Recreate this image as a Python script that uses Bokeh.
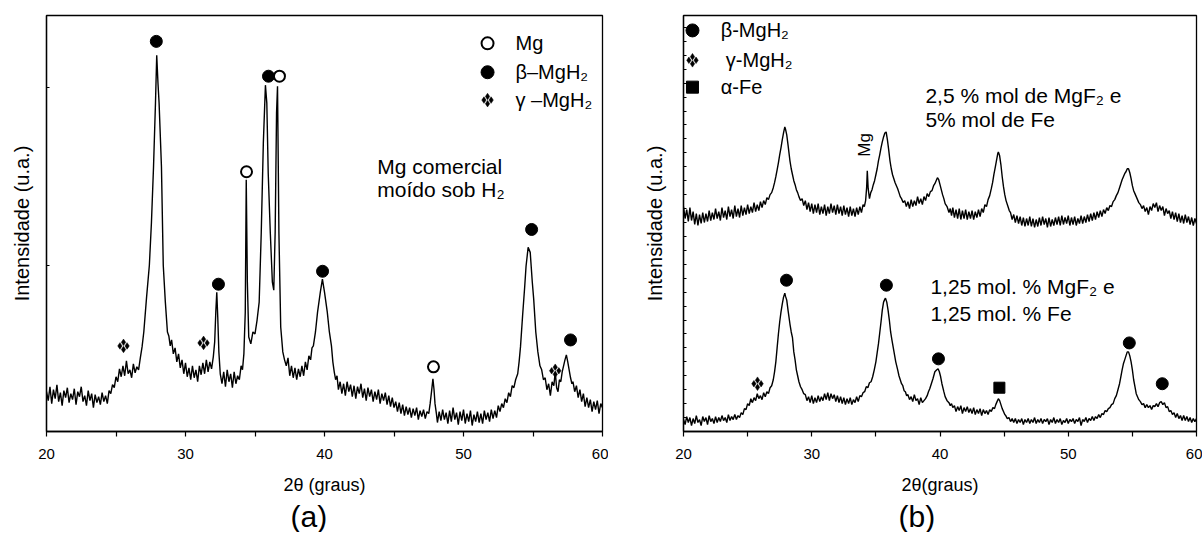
from math import pi
from bokeh.plotting import figure
from bokeh.layouts import row
from bokeh.models import FixedTicker, Title, Range1d
from bokeh.core.properties import value
from bokeh.embed import file_html
from bokeh.resources import INLINE

FONT = "Liberation Sans"

# ---------------- Panel (a): Mg comercial moído sob H2 (2θ, intensity a.u.) ----------------
scan_a = [
    (20.0, 40), (20.125, 31), (20.25, 45), (20.375, 28), (20.5, 42), (20.625, 33), (20.75, 47), (20.875, 30),
    (21.0, 39), (21.125, 26), (21.25, 41), (21.375, 34), (21.5, 44), (21.625, 29), (21.75, 38), (21.875, 32),
    (22.0, 43), (22.125, 27), (22.25, 40), (22.375, 35), (22.5, 45), (22.625, 30), (22.75, 36), (22.875, 26),
    (23.0, 41), (23.125, 31), (23.25, 38), (23.375, 24), (23.5, 37), (23.625, 29), (23.75, 35), (23.875, 27),
    (24.0, 39), (24.125, 30), (24.25, 36), (24.375, 28), (24.5, 41), (24.625, 38), (24.75, 47), (24.875, 44),
    (25.0, 55), (25.125, 50), (25.25, 63), (25.375, 55), (25.5, 66), (25.625, 56), (25.75, 71), (25.875, 58),
    (26.0, 62), (26.125, 54), (26.25, 68), (26.375, 59), (26.5, 65), (26.625, 62), (26.75, 74), (26.875, 85),
    (27.0, 100), (27.2, 135), (27.4, 167), (27.55, 210), (27.7, 266), (27.84, 330), (27.93, 378), (28.02, 350),
    (28.1, 330), (28.27, 266), (28.4, 167), (28.55, 130), (28.7, 100), (28.8, 96), (28.9, 86), (29.0, 92),
    (29.125, 78), (29.25, 84), (29.375, 70), (29.5, 78), (29.625, 64), (29.75, 72), (29.875, 58), (30.0, 69),
    (30.125, 55), (30.25, 64), (30.375, 52), (30.5, 66), (30.625, 54), (30.75, 62), (30.875, 50), (31.0, 66),
    (31.125, 57), (31.25, 69), (31.375, 58), (31.5, 72), (31.625, 60), (31.75, 70), (31.875, 63), (32.0, 75),
    (32.1, 90), (32.18, 120), (32.25, 140), (32.32, 115), (32.4, 80), (32.5, 58), (32.625, 48), (32.75, 60),
    (32.875, 45), (33.0, 62), (33.125, 50), (33.25, 58), (33.375, 44), (33.5, 60), (33.625, 48), (33.75, 56),
    (33.875, 52), (34.0, 66), (34.1, 62), (34.2, 78), (34.3, 120), (34.37, 253), (34.45, 150), (34.55, 95),
    (34.7, 88), (34.85, 100), (35.0, 98), (35.15, 112), (35.3, 130), (35.45, 200), (35.6, 290), (35.75, 348),
    (35.85, 330), (35.95, 260), (36.1, 200), (36.25, 150), (36.35, 142), (36.45, 200), (36.55, 320), (36.62, 347),
    (36.72, 200), (36.85, 105), (37.0, 80), (37.125, 72), (37.25, 66), (37.375, 74), (37.5, 56), (37.625, 66),
    (37.75, 54), (37.875, 64), (38.0, 52), (38.125, 63), (38.25, 55), (38.375, 66), (38.5, 56), (38.625, 70),
    (38.75, 62), (38.875, 76), (39.0, 72), (39.1, 84), (39.2, 86), (39.35, 100), (39.5, 120), (39.7, 140),
    (39.85, 153), (40.0, 140), (40.2, 120), (40.35, 100), (40.5, 86), (40.6, 70), (40.7, 60), (40.8, 52),
    (40.9, 56), (41.0, 42), (41.125, 50), (41.25, 38), (41.375, 48), (41.5, 36), (41.625, 50), (41.75, 40),
    (41.875, 47), (42.0, 35), (42.125, 46), (42.25, 33), (42.375, 45), (42.5, 38), (42.625, 48), (42.75, 34),
    (42.875, 43), (43.0, 31), (43.125, 44), (43.25, 35), (43.375, 42), (43.5, 30), (43.625, 40), (43.75, 32),
    (43.875, 42), (44.0, 28), (44.125, 38), (44.25, 31), (44.375, 39), (44.5, 27), (44.625, 36), (44.75, 25),
    (44.875, 34), (45.0, 24), (45.125, 30), (45.25, 20), (45.375, 29), (45.5, 18), (45.625, 27), (45.75, 16),
    (45.875, 25), (46.0, 17), (46.125, 24), (46.25, 14), (46.375, 23), (46.5, 16), (46.625, 24), (46.75, 12),
    (46.875, 21), (47.0, 15), (47.125, 22), (47.25, 13), (47.375, 20), (47.5, 18), (47.6, 28), (47.7, 40),
    (47.8, 53), (47.88, 42), (47.95, 28), (48.05, 18), (48.125, 9), (48.25, 20), (48.375, 11), (48.5, 22),
    (48.625, 12), (48.75, 19), (48.875, 8), (49.0, 21), (49.125, 10), (49.25, 24), (49.375, 12), (49.5, 19),
    (49.625, 7), (49.75, 20), (49.875, 11), (50.0, 22), (50.125, 8), (50.25, 18), (50.375, 10), (50.5, 21),
    (50.625, 6), (50.75, 17), (50.875, 10), (51.0, 20), (51.125, 9), (51.25, 18), (51.375, 8), (51.5, 21),
    (51.625, 12), (51.75, 19), (51.875, 10), (52.0, 22), (52.125, 13), (52.25, 21), (52.375, 14), (52.5, 26),
    (52.625, 20), (52.75, 28), (52.875, 24), (53.0, 33), (53.125, 29), (53.25, 39), (53.375, 35), (53.5, 46),
    (53.625, 44), (53.75, 52), (53.9, 58), (54.0, 70), (54.1, 85), (54.25, 116), (54.4, 145), (54.5, 166),
    (54.65, 185), (54.8, 180), (54.95, 150), (55.05, 133), (55.2, 100), (55.35, 80), (55.5, 66), (55.625, 62),
    (55.75, 52), (55.875, 54), (56.0, 42), (56.125, 48), (56.25, 36), (56.375, 50), (56.5, 46), (56.6, 60),
    (56.7, 44), (56.8, 40), (56.9, 52), (57.0, 50), (57.1, 60), (57.2, 66), (57.3, 72), (57.4, 77),
    (57.5, 70), (57.6, 62), (57.7, 54), (57.8, 48), (57.875, 50), (58.0, 40), (58.125, 46), (58.25, 34),
    (58.375, 42), (58.5, 30), (58.625, 38), (58.75, 25), (58.875, 34), (59.0, 24), (59.125, 32), (59.25, 20),
    (59.375, 30), (59.5, 22), (59.625, 31), (59.75, 18), (59.875, 28), (60.0, 24),
]

a_beta_x = [27.9, 32.37, 35.97, 39.86, 54.9, 57.7]
a_beta_y = [392, 148, 357, 161, 203, 92]
a_mg_x = [34.39, 36.76, 47.84]
a_mg_y = [261, 357, 65]
a_gamma_x = [25.54, 31.3, 56.6]
a_gamma_y = [86, 89, 61]

a_legend_labels = ["Mg", "\u03b2\u2013MgH\u2082", "\u03b3 \u2013MgH\u2082"]
a_legend_y = [390, 361, 333]
a_note = ["Mg comercial", "mo\u00eddo sob H\u2082"]
a_note_y = [266, 243]

# ---------------- Panel (b), lower pattern: 1,25 mol.% MgF2 e 1,25 mol.% Fe ----------------
scan_b_low = [
    (20.0, 12), (20.125, 7), (20.25, 15), (20.375, 9), (20.5, 14), (20.625, 6), (20.75, 13), (20.875, 8),
    (21.0, 16), (21.125, 9), (21.25, 12), (21.375, 6), (21.5, 15), (21.625, 10), (21.75, 14), (21.875, 7),
    (22.0, 16), (22.125, 10), (22.25, 13), (22.375, 8), (22.5, 15), (22.625, 9), (22.75, 14), (22.875, 10),
    (23.0, 16), (23.125, 11), (23.25, 14), (23.375, 9), (23.5, 17), (23.625, 11), (23.75, 15), (23.875, 12),
    (24.0, 17), (24.125, 12), (24.25, 16), (24.375, 14), (24.5, 19), (24.625, 17), (24.75, 23), (24.875, 22),
    (25.0, 28), (25.125, 26), (25.25, 33), (25.375, 29), (25.5, 34), (25.625, 31), (25.75, 38), (25.875, 33),
    (26.0, 36), (26.125, 32), (26.25, 39), (26.375, 35), (26.5, 40), (26.625, 38), (26.75, 44), (26.875, 46),
    (27.0, 52), (27.1, 60), (27.2, 70), (27.3, 84), (27.4, 98), (27.5, 110), (27.6, 120), (27.7, 128),
    (27.8, 135), (27.9, 139), (27.95, 136), (28.05, 132), (28.15, 122), (28.3, 108), (28.4, 100), (28.5, 94),
    (28.6, 80), (28.7, 72), (28.8, 62), (28.9, 56), (29.0, 50), (29.125, 45), (29.25, 42), (29.375, 38),
    (29.5, 37), (29.625, 31), (29.75, 35), (29.875, 29), (30.0, 36), (30.125, 28), (30.25, 34), (30.375, 29),
    (30.5, 36), (30.625, 30), (30.75, 35), (30.875, 31), (31.0, 38), (31.125, 32), (31.25, 39), (31.375, 31),
    (31.5, 38), (31.625, 33), (31.75, 37), (31.875, 30), (32.0, 36), (32.125, 29), (32.25, 35), (32.375, 28),
    (32.5, 34), (32.625, 27), (32.75, 33), (32.875, 28), (33.0, 34), (33.125, 27), (33.25, 32), (33.375, 29),
    (33.5, 35), (33.625, 30), (33.75, 36), (33.875, 35), (34.0, 39), (34.125, 40), (34.25, 45), (34.375, 44),
    (34.5, 49), (34.625, 50), (34.75, 55), (34.875, 62), (35.0, 70), (35.1, 79), (35.2, 88), (35.3, 99),
    (35.4, 110), (35.5, 122), (35.6, 130), (35.7, 133), (35.75, 134), (35.85, 130), (35.95, 122), (36.05, 112),
    (36.15, 100), (36.25, 92), (36.4, 81), (36.55, 70), (36.7, 62), (36.8, 56), (36.9, 52), (37.0, 48),
    (37.1, 46), (37.2, 41), (37.3, 40), (37.4, 36), (37.5, 37), (37.625, 32), (37.75, 35), (37.875, 30),
    (38.0, 37), (38.125, 31), (38.25, 33), (38.375, 27), (38.5, 34), (38.625, 29), (38.75, 31), (38.875, 33),
    (39.0, 36), (39.1, 40), (39.2, 43), (39.3, 47), (39.45, 53), (39.6, 60), (39.75, 62), (39.85, 63),
    (39.95, 60), (40.05, 55), (40.15, 48), (40.3, 40), (40.4, 35), (40.55, 31), (40.7, 29), (40.8, 26),
    (40.9, 28), (41.0, 24), (41.125, 26), (41.25, 20), (41.375, 25), (41.5, 21), (41.625, 26), (41.75, 18),
    (41.875, 24), (42.0, 20), (42.125, 25), (42.25, 19), (42.375, 23), (42.5, 18), (42.625, 24), (42.75, 17),
    (42.875, 22), (43.0, 18), (43.125, 23), (43.25, 16), (43.375, 22), (43.5, 18), (43.625, 21), (43.75, 17),
    (43.875, 22), (44.0, 20), (44.125, 24), (44.25, 23), (44.35, 27), (44.45, 30), (44.55, 33), (44.65, 31),
    (44.75, 27), (44.85, 23), (44.95, 20), (45.05, 17), (45.125, 16), (45.25, 13), (45.375, 14), (45.5, 10),
    (45.625, 13), (45.75, 9), (45.875, 13), (46.0, 8), (46.125, 12), (46.25, 9), (46.375, 13), (46.5, 7),
    (46.625, 12), (46.75, 9), (46.875, 13), (47.0, 8), (47.125, 12), (47.25, 9), (47.375, 14), (47.5, 8),
    (47.625, 12), (47.75, 9), (47.875, 13), (48.0, 8), (48.125, 12), (48.25, 10), (48.375, 13), (48.5, 7),
    (48.625, 12), (48.75, 9), (48.875, 14), (49.0, 8), (49.125, 12), (49.25, 9), (49.375, 13), (49.5, 7),
    (49.625, 11), (49.75, 9), (49.875, 13), (50.0, 8), (50.125, 12), (50.25, 10), (50.375, 13), (50.5, 8),
    (50.625, 12), (50.75, 10), (50.875, 14), (51.0, 6), (51.125, 12), (51.25, 10), (51.375, 14), (51.5, 9),
    (51.625, 13), (51.75, 11), (51.875, 15), (52.0, 11), (52.125, 15), (52.25, 13), (52.375, 17), (52.5, 14),
    (52.625, 18), (52.75, 17), (52.875, 21), (53.0, 20), (53.125, 23), (53.25, 24), (53.375, 27), (53.5, 28),
    (53.625, 33), (53.75, 36), (53.875, 42), (54.0, 48), (54.1, 55), (54.2, 62), (54.3, 68), (54.4, 72),
    (54.5, 76), (54.6, 80), (54.7, 80), (54.8, 76), (54.9, 70), (55.0, 62), (55.1, 52), (55.2, 45),
    (55.3, 38), (55.4, 35), (55.5, 32), (55.625, 30), (55.75, 27), (55.875, 28), (56.0, 24), (56.125, 27),
    (56.25, 24), (56.375, 26), (56.5, 22), (56.625, 26), (56.75, 25), (56.875, 28), (57.0, 25), (57.125, 29),
    (57.25, 30), (57.375, 27), (57.5, 29), (57.625, 24), (57.75, 25), (57.875, 20), (58.0, 21), (58.125, 17),
    (58.25, 19), (58.375, 14), (58.5, 18), (58.625, 13), (58.75, 16), (58.875, 11), (59.0, 16), (59.125, 11),
    (59.25, 15), (59.375, 10), (59.5, 14), (59.625, 9), (59.75, 13), (59.875, 10), (60.0, 13),
]

# ---------------- Panel (b), upper pattern: 2,5 % mol de MgF2 e 5% mol de Fe ----------------
scan_b_up = [
    (20.0, 226), (20.125, 214), (20.25, 223), (20.375, 211), (20.5, 225), (20.625, 212), (20.75, 221), (20.875, 208),
    (21.0, 219), (21.125, 207), (21.25, 218), (21.375, 209), (21.5, 220), (21.625, 210), (21.75, 219), (21.875, 211),
    (22.0, 222), (22.125, 212), (22.25, 220), (22.375, 213), (22.5, 224), (22.625, 214), (22.75, 221), (22.875, 212),
    (23.0, 225), (23.125, 215), (23.25, 222), (23.375, 213), (23.5, 226), (23.625, 216), (23.75, 223), (23.875, 214),
    (24.0, 227), (24.125, 216), (24.25, 224), (24.375, 215), (24.5, 227), (24.625, 217), (24.75, 225), (24.875, 218),
    (25.0, 228), (25.125, 219), (25.25, 226), (25.375, 220), (25.5, 230), (25.625, 221), (25.75, 228), (25.875, 222),
    (26.0, 231), (26.125, 225), (26.25, 232), (26.375, 228), (26.5, 235), (26.625, 233), (26.75, 238), (26.875, 240),
    (27.0, 245), (27.1, 250), (27.2, 256), (27.3, 263), (27.4, 270), (27.5, 278), (27.6, 285), (27.7, 293),
    (27.8, 300), (27.9, 306), (27.95, 304), (28.05, 298), (28.15, 288), (28.3, 272), (28.4, 264), (28.5, 258),
    (28.6, 252), (28.7, 248), (28.8, 243), (28.9, 240), (29.0, 236), (29.125, 232), (29.25, 234), (29.375, 227),
    (29.5, 232), (29.625, 223), (29.75, 230), (29.875, 221), (30.0, 229), (30.125, 219), (30.25, 228), (30.375, 220),
    (30.5, 229), (30.625, 218), (30.75, 226), (30.875, 219), (31.0, 228), (31.125, 217), (31.25, 226), (31.375, 219),
    (31.5, 229), (31.625, 220), (31.75, 227), (31.875, 218), (32.0, 228), (32.125, 219), (32.25, 226), (32.375, 217),
    (32.5, 227), (32.625, 218), (32.75, 225), (32.875, 216), (33.0, 226), (33.125, 217), (33.25, 224), (33.375, 216),
    (33.5, 225), (33.625, 218), (33.75, 226), (33.875, 220), (34.0, 228), (34.1, 226), (34.2, 232), (34.28, 245),
    (34.33, 262), (34.4, 244), (34.5, 234), (34.6, 240), (34.7, 243), (34.8, 248), (34.9, 252), (35.0, 258),
    (35.1, 264), (35.2, 272), (35.3, 278), (35.4, 285), (35.5, 291), (35.6, 296), (35.7, 300), (35.8, 301),
    (35.9, 293), (36.0, 283), (36.1, 272), (36.2, 264), (36.3, 258), (36.4, 254), (36.5, 250), (36.6, 247),
    (36.7, 244), (36.8, 240), (36.9, 236), (37.0, 234), (37.125, 230), (37.25, 232), (37.375, 226), (37.5, 231),
    (37.625, 224), (37.75, 233), (37.875, 226), (38.0, 232), (38.125, 227), (38.25, 236), (38.375, 229), (38.5, 234),
    (38.625, 228), (38.75, 236), (38.875, 232), (39.0, 239), (39.125, 236), (39.25, 241), (39.375, 242), (39.5, 247),
    (39.6, 249), (39.7, 252), (39.8, 255), (39.9, 253), (40.0, 248), (40.1, 243), (40.2, 238), (40.3, 234),
    (40.4, 229), (40.55, 226), (40.7, 220), (40.8, 224), (40.9, 217), (41.0, 225), (41.125, 215), (41.25, 223),
    (41.375, 214), (41.5, 224), (41.625, 213), (41.75, 222), (41.875, 214), (42.0, 223), (42.125, 213), (42.25, 221),
    (42.375, 214), (42.5, 222), (42.625, 213), (42.75, 221), (42.875, 215), (43.0, 223), (43.125, 216), (43.25, 224),
    (43.375, 220), (43.5, 228), (43.625, 226), (43.75, 233), (43.875, 237), (44.0, 244), (44.1, 250), (44.2, 258),
    (44.3, 265), (44.4, 272), (44.5, 279), (44.55, 281), (44.65, 277), (44.75, 268), (44.85, 256), (44.95, 246),
    (45.05, 238), (45.15, 232), (45.3, 226), (45.4, 222), (45.5, 220), (45.625, 213), (45.75, 218), (45.875, 210),
    (46.0, 217), (46.125, 209), (46.25, 216), (46.375, 207), (46.5, 215), (46.625, 206), (46.75, 214), (46.875, 207),
    (47.0, 216), (47.125, 206), (47.25, 214), (47.375, 205), (47.5, 213), (47.625, 206), (47.75, 215), (47.875, 207),
    (48.0, 216), (48.125, 208), (48.25, 214), (48.375, 205), (48.5, 215), (48.625, 206), (48.75, 213), (48.875, 207),
    (49.0, 215), (49.125, 208), (49.25, 216), (49.375, 207), (49.5, 217), (49.625, 208), (49.75, 215), (49.875, 209),
    (50.0, 217), (50.125, 207), (50.25, 215), (50.375, 208), (50.5, 216), (50.625, 207), (50.75, 214), (50.875, 209),
    (51.0, 217), (51.125, 209), (51.25, 216), (51.375, 210), (51.5, 218), (51.625, 211), (51.75, 219), (51.875, 212),
    (52.0, 220), (52.125, 213), (52.25, 221), (52.375, 215), (52.5, 222), (52.625, 216), (52.75, 223), (52.875, 219),
    (53.0, 225), (53.125, 222), (53.25, 227), (53.375, 226), (53.5, 231), (53.625, 233), (53.75, 237), (53.875, 240),
    (54.0, 245), (54.1, 249), (54.2, 253), (54.3, 256), (54.4, 259), (54.5, 261), (54.6, 264), (54.7, 264),
    (54.8, 260), (54.9, 254), (55.0, 247), (55.1, 242), (55.2, 239), (55.3, 236), (55.4, 233), (55.5, 230),
    (55.625, 228), (55.75, 224), (55.875, 227), (56.0, 221), (56.125, 225), (56.25, 218), (56.375, 226), (56.5, 222),
    (56.625, 229), (56.75, 225), (56.875, 230), (57.0, 221), (57.125, 227), (57.25, 222), (57.375, 226), (57.5, 217),
    (57.625, 224), (57.75, 219), (57.875, 222), (58.0, 214), (58.125, 221), (58.25, 213), (58.375, 220), (58.5, 211),
    (58.625, 219), (58.75, 210), (58.875, 217), (59.0, 209), (59.125, 218), (59.25, 210), (59.375, 216), (59.5, 208),
    (59.625, 215), (59.75, 207), (59.875, 214), (60.0, 209),
]

b_beta_x = [28.03, 35.82, 39.88, 54.76, 57.33]
b_beta_y = [152, 147, 73, 89, 48]
b_gamma_x = [25.77]
b_gamma_y = [48]
b_fe_x = [44.63]
b_fe_y = [44]

b_legend_labels = ["\u03b2-MgH\u2082", "\u03b3-MgH\u2082", "\u03b1-Fe"]
b_legend_x = [22.9, 23.3, 22.9]
b_legend_y = [403, 373, 346]
b_note_top = ["2,5 % mol de MgF\u2082 e", "5% mol de Fe"]
b_note_top_y = [338, 313]
b_note_bot = ["1,25 mol. % MgF\u2082 e", "1,25 mol. % Fe"]
b_note_bot_y = [146, 119]

x_major = [20, 30, 40, 50, 60]
x_minor = [25, 35, 45, 55]
a_yticks = [167, 346]
b_yticks = [14, 28, 42, 56, 70, 84, 98, 112, 126, 140, 154, 168, 182, 196, 210,
            224, 238, 252, 266, 280, 294, 308, 322, 336, 350, 364, 378, 392, 406]

theta_a = [t for t, _ in scan_a]
int_a = [v for _, v in scan_a]
theta_b1 = [t for t, _ in scan_b_low]
int_b1 = [v for _, v in scan_b_low]
theta_b2 = [t for t, _ in scan_b_up]
int_b2 = [v for _, v in scan_b_up]


def base_fig(width, left, right, top, bottom, xlabel, ylabel, ylabel_standoff, yticks,
             panel_label, panel_offset):
    p = figure(width=width, height=532, x_range=Range1d(20, 60), y_range=Range1d(0, 418),
               output_backend="svg", toolbar_location=None)
    p.min_border_left = left
    p.min_border_right = right
    p.min_border_top = top
    p.min_border_bottom = bottom
    p.grid.visible = False
    p.outline_line_color = "black"
    p.outline_line_width = 1.3
    p.background_fill_color = "white"
    p.border_fill_color = "white"

    xa = p.xaxis[0]
    xa.ticker = FixedTicker(ticks=x_major, minor_ticks=x_minor)
    xa.major_tick_out = 5
    xa.major_tick_in = 0
    xa.minor_tick_out = 5
    xa.minor_tick_in = 0
    xa.axis_line_width = 1.3
    xa.major_tick_line_width = 1.2
    xa.minor_tick_line_width = 1.2
    xa.major_label_text_font = FONT
    xa.major_label_text_font_size = "15px"
    xa.major_label_text_color = "black"
    xa.major_label_standoff = 12
    xa.axis_label = xlabel
    xa.axis_label_text_font = FONT
    xa.axis_label_text_font_size = "18px"
    xa.axis_label_text_font_style = "normal"
    xa.axis_label_text_color = "black"
    xa.axis_label_standoff = 13

    ya = p.yaxis[0]
    ya.ticker = FixedTicker(ticks=[], minor_ticks=yticks)
    ya.major_tick_in = 0
    ya.major_tick_out = 0
    ya.minor_tick_in = 3
    ya.minor_tick_out = 0
    ya.axis_line_width = 1.3
    ya.minor_tick_line_width = 1.2
    ya.axis_label = ylabel
    ya.axis_label_text_font = FONT
    ya.axis_label_text_font_size = "20px"
    ya.axis_label_text_font_style = "normal"
    ya.axis_label_text_color = "black"
    ya.axis_label_standoff = ylabel_standoff

    p.add_layout(Title(text=panel_label, align="left", offset=panel_offset,
                       text_font=FONT, text_font_size="30px", text_font_style="normal",
                       text_color="black", standoff=0), "below")
    return p


def add_text(p, xs, ys, texts, size, align="left", angle=0):
    p.text(x=xs, y=ys, text=texts, text_font=value(FONT), text_font_size=size,
           text_align=align, text_baseline="middle", text_color="black", angle=angle)


def gamma_marker(p, xs, ys, px_per_deg, d=3.6, size=6.5):
    # symbol made of four small diamonds around each anchor point (offset d pixels)
    gx, gy = [], []
    for x, y in zip(xs, ys):
        for dx, dy in [(-d, 0), (d, 0), (0, -d), (0, d)]:
            gx.append(x + dx / px_per_deg)
            gy.append(y + dy)  # y range spans 418 units over 418 px
    p.scatter(gx, gy, marker="diamond", size=size, fill_color="black", line_color="black",
              line_width=0.5)


LW = 1.4

# ---- figure (a)
pa = base_fig(608, 46, 6, 15, 99, "2\u03b8 (graus)", "Intensidade (u.a.)", 14, a_yticks,
              "(a)", 244)
PXA = 556 / 40.0
pa.line(theta_a, int_a, line_color="black", line_width=LW)
pa.scatter(a_beta_x, a_beta_y, marker="circle", size=12, fill_color="black", line_color="black")
pa.scatter(a_mg_x, a_mg_y, marker="circle", size=11, fill_color="white", line_color="black", line_width=2)
gamma_marker(pa, a_gamma_x, a_gamma_y, PXA)

# legend (a)
pa.scatter([51.73], [a_legend_y[0]], marker="circle", size=12, fill_color="white", line_color="black", line_width=2)
pa.scatter([51.73], [a_legend_y[1]], marker="circle", size=13, fill_color="black", line_color="black")
gamma_marker(pa, [51.73], [a_legend_y[2]], PXA)
add_text(pa, [53.74] * 3, a_legend_y, a_legend_labels, "20px")
add_text(pa, [43.8] * 2, a_note_y, a_note, "21px")

# ---- figure (b)
pb = base_fig(594, 75, 6, 13, 101, "2\u03b8(graus)", "Intensidade (u.a.)", 18, b_yticks,
              "(b)", 215)
PXB = 513 / 40.0
pb.line(theta_b1, int_b1, line_color="black", line_width=LW)
pb.line(theta_b2, int_b2, line_color="black", line_width=LW)
pb.scatter(b_beta_x, b_beta_y, marker="circle", size=12, fill_color="black", line_color="black")
pb.scatter(b_fe_x, b_fe_y, marker="square", size=11, fill_color="black", line_color="black")
gamma_marker(pb, b_gamma_x, b_gamma_y, PXB)
add_text(pb, [34.1], [288], ["Mg"], "17px", align="center", angle=pi / 2)

# legend (b)
pb.scatter([20.7], [b_legend_y[0]], marker="circle", size=13, fill_color="black", line_color="black")
gamma_marker(pb, [20.7], [b_legend_y[1]], PXB)
pb.scatter([20.7], [b_legend_y[2]], marker="square", size=12, fill_color="black", line_color="black")
add_text(pb, b_legend_x, b_legend_y, b_legend_labels, "20px")
add_text(pb, [38.86] * 2, b_note_top_y, b_note_top, "21px")
add_text(pb, [39.25] * 2, b_note_bot_y, b_note_bot, "21px")

layout = row(pa, pb)
open("out.html", "w").write(file_html(layout, INLINE))
